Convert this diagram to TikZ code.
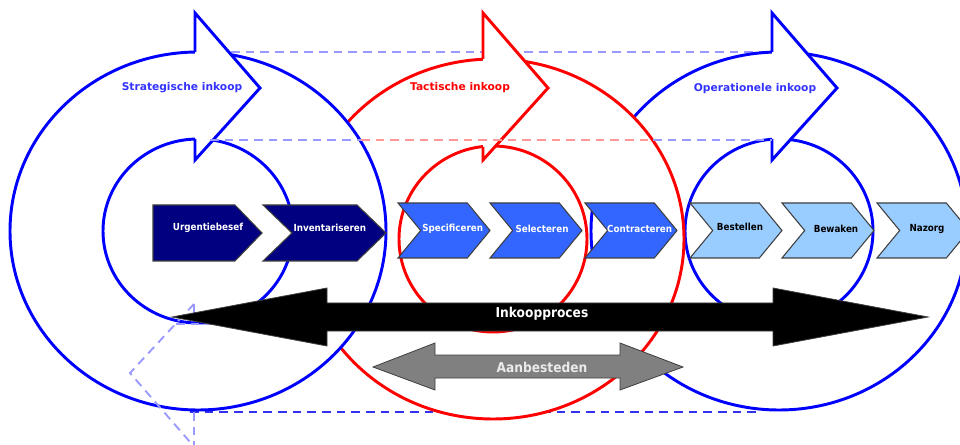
\documentclass[tikz,border=0pt]{standalone}
\usepackage{fontspec}
\setmainfont{DejaVu Sans}
\newfontfamily\condfont{DejaVu Sans Condensed}
\usetikzlibrary{shapes.symbols}
\definecolor{ringblue}{HTML}{0000FF}
\definecolor{ringred}{HTML}{FF0000}
\definecolor{labelblue}{HTML}{3333FF}
\definecolor{dashblue}{HTML}{9999FF}
\definecolor{dashred}{HTML}{FF9999}
\definecolor{baseblue}{HTML}{3333EE}
\definecolor{stepnavy}{HTML}{000080}
\definecolor{stepmid}{HTML}{3366FF}
\definecolor{steplight}{HTML}{99CCFF}
\definecolor{stepedge}{HTML}{3F3F3F}
\tikzset{
	inkoop cycle/.style={
		x=0.75pt,y=-0.75pt, % pixel grid, y downwards
		line join=miter
	},
	ring/.style={
		line width=2.2pt
	},
	ring fill/.style={
		fill=white
	},
	phase label/.style={
		font=\bfseries\fontsize{8}{9}\selectfont,
		inner sep=0pt
	},
	guide line/.style={
		line width=1.4pt,
		dash pattern=on 6.5pt off 4.5pt
	},
	process step/.style={
		signal,
		signal to=east,
		signal from=west,
		signal pointer angle=101,
		draw=stepedge,
		line width=0.8pt,
		minimum width=69pt,
		minimum height=41.25pt,
		inner sep=0pt
	},
	first step/.style={
		process step,
		signal from=nowhere,
		signal pointer angle=92,
		minimum width=81.75pt,
		minimum height=42pt
	},
	dark step/.style={fill=stepnavy},
	mid step/.style={fill=stepmid},
	light step/.style={fill=steplight},
	step text/.style={
		font=\condfont\bfseries\fontsize{7.3}{8}\selectfont,
		inner sep=0pt
	},
	big arrow/.style={
		draw=stepedge,
		line width=0.6pt
	},
	arrow text/.style={
		font=\condfont\bfseries\fontsize{10.2}{12}\selectfont,
		inner sep=0pt
	}
}

\begin{document}
\begin{tikzpicture}[inkoop cycle]
	\useasboundingbox (0,0) rectangle (960,445);
	\clip (0,0) rectangle (960,445);
	% guide lines behind the cycles
	\draw[guide line,baseblue] (190,412) -- (758,412);
	\draw[guide line,dashblue] (231,52) -- (770,52);

	% operationele inkoop
	\fill[ring fill] (779,231) ellipse [x radius=141pt,y radius=134.25pt];
	\draw[ring,ringblue] (779,231) ellipse [x radius=141pt,y radius=134.25pt];
	\draw[ring,ringblue] (779,231) ellipse [x radius=70.5pt,y radius=69pt];
	\filldraw[ring,draw=ringblue,fill=white] (772,52) -- (772,13) -- (837,88) -- (772,160) -- (772,139);
	\node[phase label,labelblue] (oper) at (755,89) {Operationele inkoop};

	% tactische inkoop
	\fill[ring fill] (493,239) ellipse [x radius=143.25pt,y radius=135pt];
	\draw[ring,ringred] (493,239) ellipse [x radius=143.25pt,y radius=135pt];
	\draw[ring,ringred] (493,239) ellipse [x radius=70.5pt,y radius=69.75pt];
	\filldraw[ring,draw=ringred,fill=white] (483,59) -- (483,13) -- (548,88) -- (483,160) -- (483,147);
	\node[phase label,ringred] (tact) at (460,88) {Tactische inkoop};
	\begin{scope}% blue edge seen in the notch
		\clip (580,205) rectangle (605,256);
		\draw[ring,ringblue] (779,231) ellipse [x radius=141pt,y radius=134.25pt];
	\end{scope}

	% strategische inkoop
	\fill[ring fill] (198,231) ellipse [x radius=141pt,y radius=134.25pt];
	\draw[ring,ringblue] (198,231) ellipse [x radius=141pt,y radius=134.25pt];
	\draw[ring,ringblue] (198,231) ellipse [x radius=71.25pt,y radius=69pt];
	\filldraw[ring,draw=ringblue,fill=white] (195,52) -- (195,13) -- (260,88) -- (195,160) -- (195,139);
	\node[phase label,labelblue] (strat) at (182,88) {Strategische inkoop};

	% guide lines in front
	\draw[guide line,dashblue] (210,140) -- (361,140);
	\draw[guide line,dashred] (361,140) -- (653,140);
	\draw[guide line,dashblue] (653,140) -- (772,140);
	\draw[guide line,dashblue] (194,304) -- (130,373) -- (190,442);
	\draw[guide line,dashblue] (194,304) -- (194,318);
	\draw[guide line,dashblue] (176,324) -- (212,324);
	\draw[guide line,dashblue] (194,412) -- (194,445);

	% process steps
	\node[first step,dark step] (urgentie) at (194,233) {};
	\node[process step,dark step,signal pointer angle=88,minimum width=92.25pt,minimum height=42pt] (inventaris) at (324.5,233) {};
	\node[process step,mid step] (specificeer) at (444,230.5) {};
	\node[process step,mid step] (selecteer) at (536,230.5) {};
	\node[process step,mid step] (contracteer) at (631,230.5) {};
	\node[process step,light step] (bestel) at (736,230.5) {};
	\node[process step,light step] (bewaak) at (828,230.5) {};
	\node[process step,light step] (nazorg) at (923,230.5) {};

	\node[step text,white] (urgentie text) at ([xshift=10.5pt,yshift=4pt]urgentie.center) {Urgentiebesef};
	\node[step text,white] (inventaris text) at ([xshift=4pt,yshift=4pt]inventaris.center) {Inventariseren};
	\node[step text,white] (specificeer text) at ([xshift=6.5pt,yshift=1pt]specificeer.center) {Specificeren};
	\node[step text,white] (selecteer text) at ([xshift=4.5pt,yshift=1pt]selecteer.center) {Selecteren};
	\node[step text,white] (contracteer text) at ([xshift=6.5pt,yshift=1pt]contracteer.center) {Contracteren};
	\node[step text] (bestel text) at ([xshift=3pt,yshift=3pt]bestel.center) {Bestellen};
	\node[step text] (bewaak text) at ([xshift=6pt,yshift=1pt]bewaak.center) {Bewaken};
	\node[step text] (nazorg text) at ([xshift=3pt,yshift=1pt]nazorg.center) {Nazorg};

	% double arrows
	\filldraw[big arrow,fill=black] (172,317) -- (327,288) -- (327,303) -- (773,303) -- (773,288) -- (928,317) -- (773,346) -- (773,331) -- (327,331) -- (327,346) -- cycle;
	\node[arrow text,white] (inkoop) at (542,314) {Inkoopproces};
	\filldraw[big arrow,fill=gray] (373,367) -- (435,343) -- (435,355) -- (620,355) -- (620,343) -- (683,367) -- (620,390) -- (620,378) -- (435,378) -- (435,390) -- cycle;
	\node[arrow text,white!92!black] (aanbesteden) at (542,367) {Aanbesteden};
\end{tikzpicture}
\end{document}
